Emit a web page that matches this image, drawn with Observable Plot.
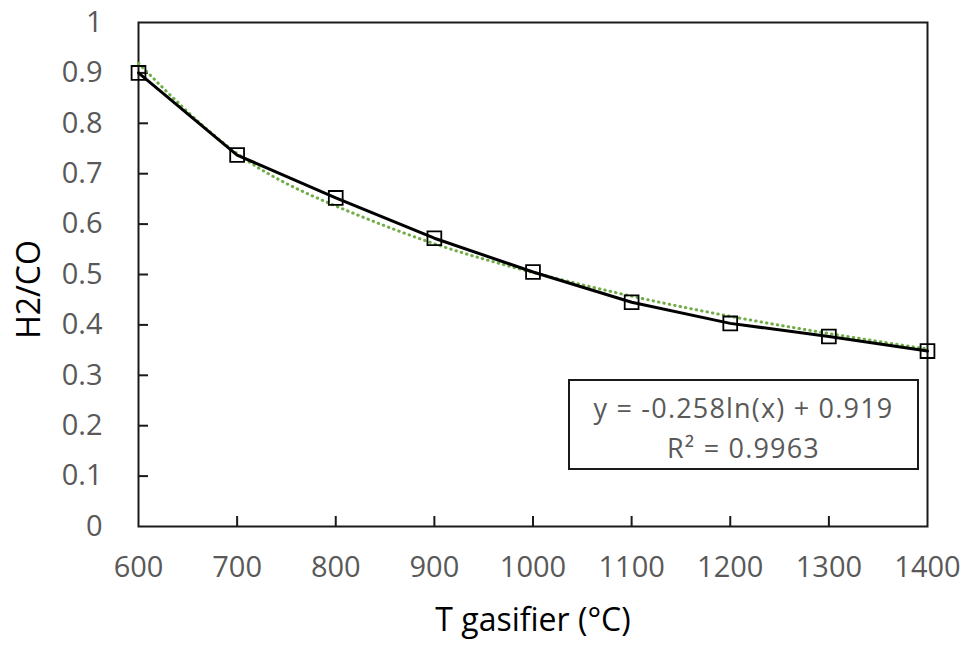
<!DOCTYPE html>
<html><head><meta charset="utf-8">
<script src="https://cdn.jsdelivr.net/npm/d3@7"></script>
<script src="https://cdn.jsdelivr.net/npm/@observablehq/plot@0.6"></script>
<style>
body{margin:0;background:#fff;}
#wrap{position:relative;width:969px;height:645px;}
#eq{position:absolute;left:568px;top:379px;width:347px;height:80px;padding-top:7px;border:2px solid #1a1a1a;background:#fff;font-family:"Open Sans",sans-serif;font-size:27px;letter-spacing:1.2px;color:#595959;text-align:center;line-height:40px;}
</style></head>
<body>
<div id="wrap"><div id="eq">y = -0.258ln(x) + 0.919<br>R² = 0.9963</div></div>
<script>
const temps = [600, 700, 800, 900, 1000, 1100, 1200, 1300, 1400];
const h2co = [0.900, 0.737, 0.652, 0.572, 0.505, 0.445, 0.403, 0.377, 0.348];
const trend = [0.919, 0.740, 0.636, 0.561, 0.504, 0.457, 0.417, 0.383, 0.352];
const xTicks = [600, 700, 800, 900, 1000, 1100, 1200, 1300, 1400];
const yTicks = [0, 0.1, 0.2, 0.3, 0.4, 0.5, 0.6, 0.7, 0.8, 0.9, 1];

const pts = temps.map((t, i) => ({t, v: h2co[i], f: trend[i]}));
const ml = 138, mr = 42, mt = 22, mb = 119, W = 969, H = 645;
const pw = W - ml - mr, ph = H - mt - mb;

const chart = Plot.plot({
  width: W, height: H,
  marginLeft: ml, marginRight: mr, marginTop: mt, marginBottom: mb,
  style: {fontFamily: "'Open Sans', sans-serif", background: "#fff", overflow: "visible"},
  x: {domain: [600, 1400]},
  y: {domain: [0, 1]},
  marks: [
    Plot.axisX(xTicks, {tickSize: 0, tickPadding: 30, fontSize: 29, fill: "#595959",
      tickFormat: d => String(d), label: null}),
    Plot.axisY(yTicks, {tickSize: 0, tickPadding: 36, fontSize: 29, fill: "#595959",
      tickFormat: d => String(d), label: null}),
    Plot.text(["H2/CO"], {frameAnchor: "left", dx: -109, dy: 15, rotate: -90, fontSize: 32, fill: "#000", textAnchor: "middle"}),
    Plot.text(["T gasifier (°C)"], {frameAnchor: "bottom", dy: 94, fontSize: 32, fill: "#000", lineAnchor: "middle"}),
    Plot.tickX(xTicks.slice(1, -1), {x: d => d, insetTop: ph - 10, stroke: "#1a1a1a", strokeWidth: 2}),
    Plot.tickY(yTicks.slice(1, -1), {y: d => d, insetRight: pw - 10, stroke: "#1a1a1a", strokeWidth: 2}),
    Plot.frame({stroke: "#1a1a1a", strokeWidth: 2}),
    Plot.line(pts, {x: "t", y: "f", stroke: "#70AD47", strokeWidth: 3, strokeDasharray: "0.5,5", strokeLinecap: "round", curve: "natural"}),
    Plot.line(pts, {x: "t", y: "v", stroke: "#000", strokeWidth: 3}),
    Plot.dot(pts, {x: "t", y: "v", symbol: "square", r: 7.8, stroke: "#000", strokeWidth: 1.8, fill: "none"})
  ]
});
document.getElementById("wrap").prepend(chart);
</script>
</body></html>
